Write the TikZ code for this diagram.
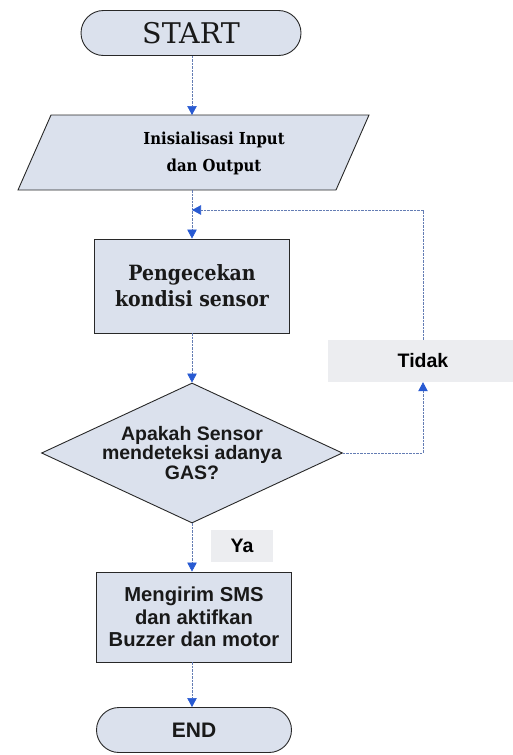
\documentclass[tikz,border=0pt]{standalone}
\usepackage{fontspec}
\setmainfont{DejaVu Serif}
\setsansfont{Liberation Sans}
\newfontfamily\srfb[FakeStretch=0.9]{DejaVu Serif}
\usetikzlibrary{shapes.geometric,shapes.misc,arrows.meta}
\definecolor{boxfill}{RGB}{219,225,237}
\definecolor{labfill}{RGB}{236,237,240}
\definecolor{linecol}{RGB}{100,125,180}
\definecolor{tipcol}{RGB}{40,90,210}
\definecolor{edgecol}{RGB}{40,40,40}
\tikzset{
  shapeline/.style={draw=edgecol, line width=0.9pt, fill=boxfill},
  shapebase/.style={shapeline, align=center, inner sep=0pt, text=black!90},
  terminal/.style={shapebase, rounded rectangle, minimum height=45pt},
  procbox/.style={shapebase, rectangle, minimum width=195pt},
  decision/.style={shapebase, diamond, aspect=2.15},
  lbl/.style={fill=labfill, inner sep=0pt, font=\sffamily\bfseries\fontsize{19.5}{20}\selectfont},
  flow/.style={draw=linecol, line width=0.65pt, dash pattern=on 2.5pt off 1pt, -{Triangle[width=9.5pt,length=9pt,color=tipcol,fill=tipcol]}},
}
\begin{document}
\begin{tikzpicture}[x=1pt,y=-1pt]
\useasboundingbox (0,0) rectangle (512,755);
\node[terminal, minimum width=220pt, font=\fontsize{28.5}{30}\selectfont] (start) at (191,33) {START};
\path[shapeline] (51,115) -- (369,115) -- (336,190) -- (18,190) -- cycle;
\coordinate (iotop) at (192,115);
\coordinate (iobot) at (192,190);
\node[align=center, inner sep=0pt, font=\srfb\bfseries\fontsize{16.5}{27}\selectfont] (iotxt) at (214,153) {Inisialisasi Input\\dan Output};
\node[procbox, minimum height=94pt, font=\srfb\bfseries\fontsize{21}{26}\selectfont] (chk) at (192,286) {Pengecekan\\kondisi sensor};
\node[decision, minimum width=301pt, minimum height=140pt, font=\sffamily\bfseries\fontsize{19.5}{19.5}\selectfont] (dec) at (192,453) {Apakah Sensor\\mendeteksi adanya\\GAS?};
\node[procbox, minimum height=90pt, font=\sffamily\bfseries\fontsize{20.2}{22.5}\selectfont] (sms) at (194,617) {Mengirim SMS\\dan aktifkan\\Buzzer dan motor};
\node[terminal, minimum width=195pt, minimum height=45pt, font=\sffamily\bfseries\fontsize{21}{22}\selectfont] (end) at (194,730) {END};
\node[lbl, minimum width=190pt, minimum height=42pt] (tidak) at (423,361) {Tidak};
\node[lbl, minimum width=62pt, minimum height=32pt] (ya) at (242,546) {Ya};
\coordinate (merge) at (192,210);
\draw[flow] (start.south -| iotop) -- (iotop);
\draw[flow] (iobot) -- (chk.north);
\draw[flow] (chk.south) -- (dec.north);
\draw[flow] (dec.south) -- (dec.south |- sms.north);
\draw[flow] (sms.south -| dec.south) -- (end.north -| dec.south);
\draw[flow] (dec.east) -| (tidak.south);
\draw[flow] (tidak.north) |- (merge);
\end{tikzpicture}
\end{document}
